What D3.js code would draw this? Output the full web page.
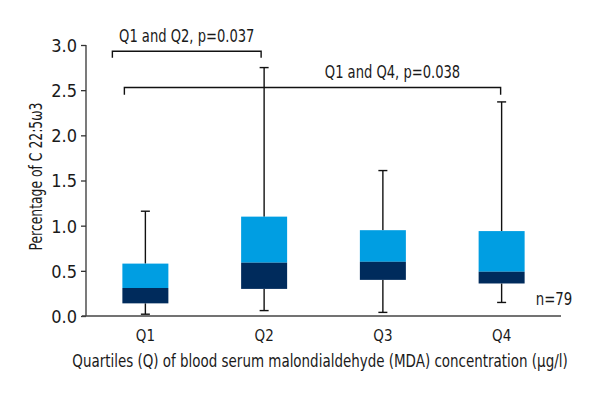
<!DOCTYPE html>
<html><head><meta charset="utf-8">
<script src="https://cdn.jsdelivr.net/npm/d3@7"></script>
<style>
body{margin:0;background:#fff;}
text{font-family:"DejaVu Sans Condensed","DejaVu Sans",sans-serif;font-stretch:condensed;fill:#1a1a1a;}
</style></head>
<body><svg id="c" width="600" height="400"></svg>
<script>
const categories = ["Q1","Q2","Q3","Q4"];
const whiskerLow  = [0.02, 0.06, 0.04, 0.15];
const boxLow      = [0.14, 0.30, 0.40, 0.36];
const medians     = [0.31, 0.59, 0.60, 0.49];
const boxHigh     = [0.58, 1.10, 0.95, 0.94];
const whiskerHigh = [1.16, 2.75, 1.61, 2.37];
const yTicks = [0.0, 0.5, 1.0, 1.5, 2.0, 2.5, 3.0];
const brackets = [
  {from:"Q1", to:"Q2", level:2.93, drop:0.07, label:"Q1 and Q2, p=0.037", dx0:-33, dx1:-3, labelDx:0},
  {from:"Q1", to:"Q4", level:2.53, drop:0.08, label:"Q1 and Q4, p=0.038", dx0:-21, dx1:-1, labelDx:80}
];
const nLabel = "n=79";

(function(){
const svg = d3.select("#c");
const mL = 86, mR = 561, mT = 45, mB = 316;
const x = d3.scaleBand().domain(categories).range([mL, mR]).padding(0);
const y = d3.scaleLinear().domain([0, 3]).range([mB, mT]);
const cx = c => x(c) + x.bandwidth()/2;
const bw = 46;
const light = "#009ee2", dark = "#002b5c";

function label(px, py, str, size, sx, rot){
  return svg.append("text")
    .attr("transform",`translate(${px},${py}) rotate(${rot||0}) scale(${sx},1)`)
    .attr("text-anchor","middle").style("font-size",size+"px").text(str);
}

const yAxis = svg.append("g").attr("transform",`translate(${mL},0)`)
  .call(d3.axisLeft(y).tickValues(yTicks).tickFormat(d3.format(".1f")).tickSize(5).tickPadding(4));
yAxis.select(".domain").attr("stroke","#333").attr("stroke-width",1.3).attr("d",`M0,${mT}V${mB}`);
yAxis.selectAll(".tick line").attr("stroke","#333").attr("stroke-width",1.3);
yAxis.selectAll(".tick text").style("font-size","18px").attr("fill","#1a1a1a").attr("dy","0.36em");

const xAxis = svg.append("g").attr("transform",`translate(0,${mB})`)
  .call(d3.axisBottom(x).tickSize(0).tickPadding(14));
xAxis.select(".domain").attr("stroke","#444").attr("stroke-width",1.3).attr("d",`M${mL-4},0H${mR}`);
xAxis.selectAll(".tick text").style("font-size","15px").attr("fill","#1a1a1a");

const g = svg.append("g");
categories.forEach((c,i)=>{
  const X = cx(c);
  g.append("line").attr("x1",X).attr("x2",X).attr("y1",y(boxHigh[i])).attr("y2",y(whiskerHigh[i])).attr("stroke","#111").attr("stroke-width",1.4);
  g.append("line").attr("x1",X).attr("x2",X).attr("y1",y(boxLow[i])).attr("y2",y(whiskerLow[i])).attr("stroke","#111").attr("stroke-width",1.4);
  [whiskerHigh[i], whiskerLow[i]].forEach(v=>{
    g.append("line").attr("x1",X-4.5).attr("x2",X+4.5).attr("y1",y(v)).attr("y2",y(v)).attr("stroke","#111").attr("stroke-width",1.4);
  });
  g.append("rect").attr("x",X-bw/2).attr("width",bw).attr("y",y(boxHigh[i])).attr("height",y(medians[i])-y(boxHigh[i])).attr("fill",light);
  g.append("rect").attr("x",X-bw/2).attr("width",bw).attr("y",y(medians[i])).attr("height",y(boxLow[i])-y(medians[i])).attr("fill",dark);
});

brackets.forEach(b=>{
  const x0 = cx(b.from)+b.dx0, x1 = cx(b.to)+b.dx1;
  const yl = y(b.level), yd = y(b.level-b.drop);
  svg.append("path").attr("d",`M${x0},${yd}V${yl}H${x1}V${yd}`).attr("fill","none").attr("stroke","#111").attr("stroke-width",1.4);
  label((x0+x1)/2 + b.labelDx, yl-9.5, b.label, 18, 0.81);
});

label(554, 305, nLabel, 17, 0.87);
label(42, 176.5, "Percentage of C 22:5ω3", 17, 0.81, -90);
label(320, 367, "Quartiles (Q) of blood serum malondialdehyde (MDA) concentration (μg/l)", 17, 0.88);
})();
</script></body></html>
